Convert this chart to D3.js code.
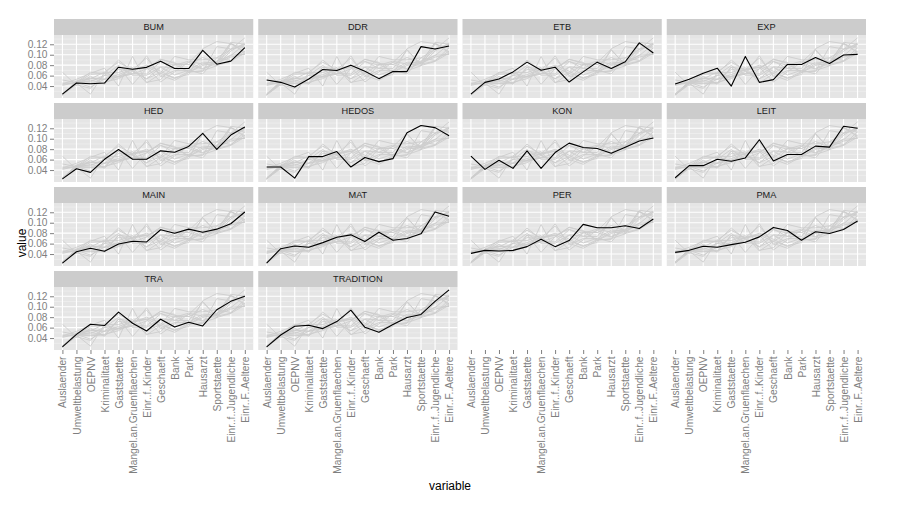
<!DOCTYPE html>
<html>
<head>
<meta charset="utf-8">
<script src="https://cdn.jsdelivr.net/npm/d3@7"></script>
<style>
  html, body { margin: 0; padding: 0; background: #ffffff; }
  svg { display: block; font-family: "Liberation Sans", Arial, Helvetica, sans-serif; }
</style>
</head>
<body>
<svg id="chart" width="900" height="506"></svg>
<script>
// ---- data ----
const categories = ["Auslaender", "Umweltbelastung", "OEPNV", "Kriminalitaet", "Gaststaette",
  "Mangel.an.Gruenflaechen", "Einr..f..Kinder", "Geschaeft", "Bank", "Park", "Hausarzt",
  "Sportstaette", "Einr..f..Jugendliche", "Einr..F..Aeltere"];

const seriesNames = ["BUM", "DDR", "ETB", "EXP", "HED", "HEDOS", "KON", "LEIT", "MAIN", "MAT", "PER", "PMA", "TRA", "TRADITION"];

const BUM       = [0.0245, 0.0458, 0.0445, 0.0458, 0.0761, 0.0723, 0.0758, 0.0877, 0.0735, 0.0735, 0.1084, 0.0819, 0.0877, 0.1135];
const DDR       = [0.0516, 0.0471, 0.0380, 0.0535, 0.0716, 0.0697, 0.0800, 0.0684, 0.0542, 0.0677, 0.0677, 0.1155, 0.1110, 0.1168];
const ETB       = [0.0245, 0.0471, 0.0535, 0.0671, 0.0858, 0.0703, 0.0761, 0.0477, 0.0671, 0.0858, 0.0735, 0.0865, 0.1226, 0.1032];
const EXP       = [0.0439, 0.0529, 0.0645, 0.0742, 0.0400, 0.0968, 0.0471, 0.0523, 0.0813, 0.0813, 0.0948, 0.0832, 0.0994, 0.1006];
const HED       = [0.0232, 0.0426, 0.0355, 0.0606, 0.0794, 0.0606, 0.0606, 0.0768, 0.0742, 0.0852, 0.1103, 0.0794, 0.1071, 0.1226];
const HEDOS     = [0.0458, 0.0458, 0.0245, 0.0658, 0.0658, 0.0755, 0.0458, 0.0639, 0.0561, 0.0619, 0.1116, 0.1252, 0.1213, 0.1058];
const KON       = [0.0665, 0.0413, 0.0587, 0.0432, 0.0768, 0.0432, 0.0735, 0.0916, 0.0832, 0.0813, 0.0723, 0.0839, 0.0955, 0.1013];
const LEIT      = [0.0252, 0.0484, 0.0484, 0.0606, 0.0568, 0.0632, 0.0981, 0.0574, 0.0697, 0.0697, 0.0858, 0.0839, 0.1239, 0.1200];
const MAIN      = [0.0226, 0.0445, 0.0510, 0.0452, 0.0594, 0.0645, 0.0632, 0.0865, 0.0800, 0.0877, 0.0819, 0.0877, 0.0981, 0.1206];
const MAT       = [0.0226, 0.0503, 0.0555, 0.0529, 0.0619, 0.0723, 0.0768, 0.0639, 0.0819, 0.0665, 0.0697, 0.0787, 0.1206, 0.1123];
const PER       = [0.0413, 0.0471, 0.0458, 0.0471, 0.0542, 0.0684, 0.0542, 0.0658, 0.0968, 0.0903, 0.0903, 0.0942, 0.0890, 0.1071];
const PMA       = [0.0432, 0.0471, 0.0548, 0.0529, 0.0581, 0.0626, 0.0729, 0.0910, 0.0852, 0.0665, 0.0826, 0.0794, 0.0871, 0.1032];
const TRA       = [0.0232, 0.0471, 0.0665, 0.0639, 0.0897, 0.0684, 0.0535, 0.0761, 0.0613, 0.0703, 0.0632, 0.0942, 0.1103, 0.1200];
const TRADITION = [0.0232, 0.0458, 0.0626, 0.0645, 0.0581, 0.0716, 0.0935, 0.0606, 0.0510, 0.0658, 0.0794, 0.0852, 0.1103, 0.1323];

const yTicks = [0.04, 0.06, 0.08, 0.10, 0.12];
const yMinor = [0.03, 0.05, 0.07, 0.09, 0.11, 0.13];

const seriesValues = [BUM, DDR, ETB, EXP, HED, HEDOS, KON, LEIT, MAIN, MAT, PER, PMA, TRA, TRADITION];
const seriesData = seriesNames.map((name, i) => ({
  name,
  points: categories.map((c, j) => ({ cat: c, value: seriesValues[i][j] }))
}));

// ---- layout ----
const svg = d3.select("#chart");
const nCol = 4, nRow = 4;
const leftX = 54, rightX = 866, topY = 19;
const gap = 5;
const stripH = 16, panelH = 63;
const panelW = (rightX - leftX - gap * (nCol - 1)) / nCol;
const rowPitch = stripH + panelH + gap;
const bottomAxisY = topY + (nRow - 1) * rowPitch + stripH + panelH;
const fontFam = "Liberation Sans, Arial, Helvetica, sans-serif";

const allVals = seriesValues.flat();
const [vmin, vmax] = d3.extent(allVals);
const pad = (vmax - vmin) * 0.05;

const x = d3.scalePoint().domain(categories).range([0, panelW]).padding(0.6);
const y = d3.scaleLinear().domain([vmin - pad, vmax + pad]).range([panelH, 0]);

const line = d3.line().x(d => x(d.cat)).y(d => y(d.value));

seriesData.forEach((s, idx) => {
  const col = idx % nCol, row = Math.floor(idx / nCol);
  const px = leftX + col * (panelW + gap);
  const py = topY + row * rowPitch;

  const g = svg.append("g").attr("transform", `translate(${px},${py})`);
  // strip
  g.append("rect").attr("width", panelW).attr("height", stripH).attr("fill", "#cccccc");
  g.append("text").attr("x", panelW / 2).attr("y", stripH / 2 + 3.3)
    .attr("text-anchor", "middle").attr("font-size", 9.2).attr("font-family", fontFam)
    .attr("fill", "#1a1a1a").text(s.name);

  const p = g.append("g").attr("transform", `translate(0,${stripH})`);
  p.append("rect").attr("width", panelW).attr("height", panelH).attr("fill", "#e5e5e5");
  // minor grid
  p.selectAll(".minor").data(yMinor.filter(v => y(v) >= 0 && y(v) <= panelH)).join("line")
    .attr("x1", 0).attr("x2", panelW).attr("y1", d => y(d)).attr("y2", d => y(d))
    .attr("stroke", "#f2f2f2").attr("stroke-width", 0.6);
  // major grid
  p.selectAll(".majy").data(yTicks).join("line")
    .attr("x1", 0).attr("x2", panelW).attr("y1", d => y(d)).attr("y2", d => y(d))
    .attr("stroke", "#ffffff").attr("stroke-width", 1.1);
  p.selectAll(".majx").data(categories).join("line")
    .attr("y1", 0).attr("y2", panelH).attr("x1", d => x(d)).attr("x2", d => x(d))
    .attr("stroke", "#ffffff").attr("stroke-width", 1.1);

  // grey background lines: all series
  p.selectAll(".bg").data(seriesData).join("path")
    .attr("d", d => line(d.points)).attr("fill", "none")
    .attr("stroke", "#cdcdcd").attr("stroke-width", 0.9);
  // highlighted series
  p.append("path").attr("d", line(s.points)).attr("fill", "none")
    .attr("stroke", "#000000").attr("stroke-width", 1.1).attr("stroke-linejoin", "round");

  // y axis on first column
  if (col === 0) {
    const ya = p.append("g").call(d3.axisLeft(y).tickValues(yTicks).tickFormat(d3.format(".2f")).tickSize(4).tickPadding(2.5));
    ya.select(".domain").remove();
    ya.selectAll(".tick line").attr("stroke", "#7f7f7f");
    ya.selectAll(".tick text").attr("fill", "#7f7f7f").attr("font-size", 10.2)
      .attr("font-family", fontFam);
  }
});

// x axes at the bottom of each column
for (let col = 0; col < nCol; col++) {
  const px = leftX + col * (panelW + gap);
  const xa = svg.append("g").attr("transform", `translate(${px},${bottomAxisY})`)
    .call(d3.axisBottom(x).tickSize(4).tickPadding(2));
  xa.select(".domain").remove();
  xa.selectAll(".tick line").attr("stroke", "#7f7f7f");
  xa.selectAll(".tick text")
    .attr("fill", "#7f7f7f").attr("font-size", 10.2)
    .attr("font-family", fontFam)
    .attr("transform", "rotate(-90)")
    .attr("text-anchor", "end")
    .attr("x", -6.5).attr("y", 0).attr("dy", "0.35em");
}

// axis titles
svg.append("text").attr("x", 450).attr("y", 490).attr("text-anchor", "middle")
  .attr("font-size", 12).attr("font-family", fontFam).attr("fill", "#000").text("variable");
svg.append("text").attr("transform", `translate(26,243) rotate(-90)`)
  .attr("text-anchor", "middle").attr("font-size", 12).attr("font-family", fontFam)
  .attr("fill", "#000").text("value");
</script>
</body>
</html>
